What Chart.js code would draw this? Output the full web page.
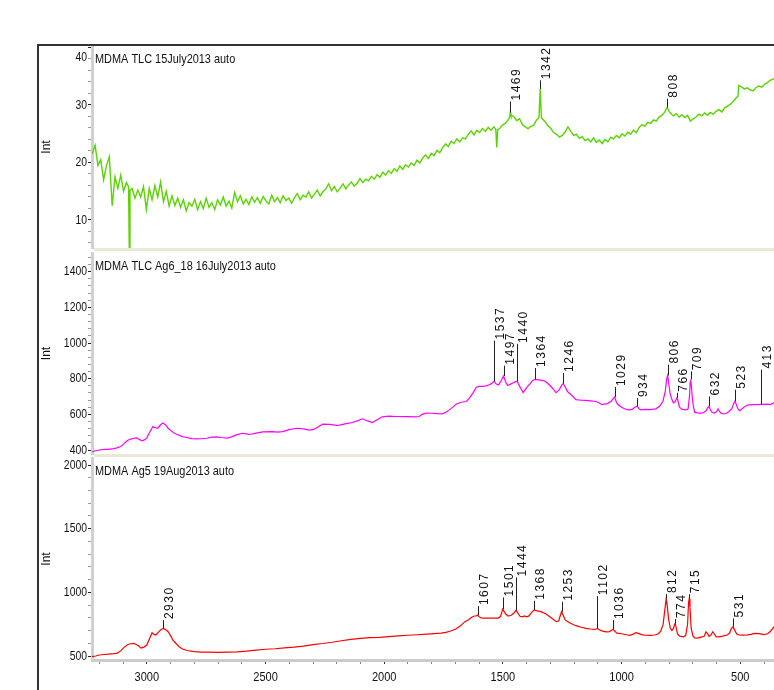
<!DOCTYPE html>
<html>
<head>
<meta charset="utf-8">
<title>MDMA Raman spectra</title>
<script src="https://cdn.jsdelivr.net/npm/chart.js@4.4.1/dist/chart.umd.min.js"></script>
<style>
    html, body { margin: 0; padding: 0; background: #fff; }
    #page { position: relative; width: 774px; height: 690px; overflow: hidden; }
    #frame {
        position: absolute; left: 37px; top: 44px; width: 800px; height: 700px;
        border-left: 2px solid #333; border-top: 2px solid #333;
    }
    canvas { position: absolute; left: 0; }
</style>
</head>
<body>
<div id="page">
    <div id="frame"></div>
    <canvas id="tlc" width="774" height="205" style="top:46px"></canvas>
    <canvas id="ag6" width="774" height="206" style="top:251px"></canvas>
    <canvas id="ag5" width="774" height="233" style="top:457px"></canvas>
</div>
<script>
/* ==========================================================
   data (wavenumber cm-1, intensity)
========================================================== */

const xTicks = [3000, 2500, 2000, 1500, 1000, 500];

/* ---- panel 1 ---- */
const tlcTitle = "MDMA TLC 15July2013 auto";
const tlcTicks = [10, 20, 30, 40];
const tlcSpectrum = [
    [3230,21.5],[3218,23],[3206,19.5],[3194,20.5],[3182,17],[3170,19.5],[3158,21],[3146,12.5],[3134,17.5],[3122,15.5],
    [3110,17.8],[3098,15],[3086,16.5],[3077,15.8],[3074,5.2],[3071,15.2],[3062,15.5],[3050,13.8],[3038,15.2],[3026,14],[3014,15.8],[3002,11.8],
    [2990,15.5],[2978,13.5],[2966,16],[2954,14],[2942,16.6],[2930,13.2],[2918,15],[2906,12.4],[2894,14.2],[2882,12.5],
    [2870,13.8],[2858,12.2],[2846,13.5],[2834,11.6],[2822,13],[2810,12.4],[2798,13.6],[2786,11.8],[2774,13.2],[2762,12],
    [2750,13.8],[2738,12.2],[2726,13],[2714,11.8],[2702,13.5],[2690,12.6],[2678,14],[2666,12.4],[2654,13.3],[2642,12.1],
    [2630,14.8],[2618,13.2],[2606,14.2],[2594,12.8],[2582,13.6],[2570,12.7],[2558,14],[2546,13.1],[2534,13.9],[2522,12.9],
    [2510,14.1],[2498,13.3],[2486,12.8],[2474,14.3],[2462,13.2],[2450,13.9],[2438,13],[2426,14.2],[2414,13.4],[2402,13.8],
    [2390,12.9],[2378,13.9],[2366,14.6],[2354,13.5],[2342,14.3],[2330,14],[2318,14.9],[2306,13.8],[2294,14.5],[2282,15.2],
    [2270,14.2],[2258,14.9],[2246,15.4],[2234,16.3],[2222,15.1],[2210,15.8],[2198,14.9],[2186,15.5],[2174,16.3],[2162,15.4],
    [2150,16.1],[2138,16.6],[2126,15.9],[2114,16.4],[2102,17.2],[2090,16.5],[2078,17.1],[2066,16.8],[2054,17.6],[2042,17.1],
    [2030,17.9],[2018,17.4],[2006,18.3],[1994,17.8],[1982,18.6],[1970,18.1],[1958,18.9],[1946,18.5],[1934,19.4],[1922,18.8],
    [1910,19.6],[1898,19.2],[1886,19.9],[1874,19.5],[1862,20.4],[1850,19.9],[1838,20.8],[1826,21.3],[1814,20.7],[1802,21.6],
    [1790,21.2],[1778,22.1],[1766,21.7],[1754,22.6],[1742,23.2],[1730,22.8],[1718,23.7],[1706,23.3],[1694,24.1],[1682,23.6],
    [1670,24.3],[1658,24.1],[1646,24.9],[1634,25.5],[1622,24.8],[1610,25.6],[1598,25.2],[1586,25.9],[1574,25.4],[1562,26.1],
    [1550,25.6],[1538,26.2],[1530,25.8],[1526,22.6],[1522,25.7],[1514,25.9],[1502,26.5],[1490,26.8],[1478,27.4],[1472,27.8],
    [1469,28.7],[1466,28.2],[1454,28],[1442,27.3],[1430,27.6],[1418,26.6],[1406,26.2],[1394,25.9],[1382,26.3],[1370,26.5],
    [1358,27.4],[1348,27.8],[1343,32.8],[1338,27.9],[1334,27.6],[1322,27.1],
    [1310,26.4],[1298,25.9],[1286,25.2],[1274,24.9],[1262,24.4],[1250,24.7],[1238,25.3],[1226,26.2],[1214,25.4],[1202,24.7],
    [1190,24.9],[1178,24.2],[1166,24.5],[1154,23.8],[1142,24.1],[1130,23.6],[1118,24.3],[1106,23.5],[1094,23.9],[1082,23.3],
    [1070,24],[1058,23.6],[1046,24.4],[1034,24.1],[1022,24.7],[1010,24.3],[998,25],[986,24.6],[974,25.3],[962,24.9],
    [950,25.6],[938,25.2],[926,26.1],[914,26.6],[902,26.3],[890,27],[878,26.8],[866,27.4],[854,27.2],[842,27.9],
    [830,28.2],[818,28.8],[808,29.6],[800,28.9],[794,28.6],[782,28.1],[770,28.5],[758,27.9],[746,28.3],[734,27.8],[722,28.2],
    [710,27.2],[698,27.6],[686,27.9],[674,28.4],[662,28.1],[650,28.6],[638,28.2],[626,28.7],[614,28.4],[602,28.9],
    [590,29.2],[578,28.8],[566,29.5],[554,29.8],[542,30.1],[530,30.6],[518,31.2],[510,31.5],[506,33.4],[494,33.1],[482,32.8],
    [470,33],[458,32.6],[446,32.5],[434,33],[422,33.3],[410,33.1],[398,33.6],[386,33.9],[374,34.3],[362,34.5],[350,34.8]
];
const tlcPeaks = [1469, 1342, 808];
const tlcPeakBase = [28.7, 32.8, 29.6];
const tlcPeakTop = [30.6, 34.3, 31.1];

/* ---- panel 2 ---- */
const ag6Title = "MDMA TLC Ag6_18 16July2013 auto";
const ag6Ticks = [400, 600, 800, 1000, 1200, 1400];
const ag6Spectrum = [
    [3231,390],[3215,396],[3200,400],[3180,403],[3160,404],[3140,408],[3126,412],[3110,420],[3100,430],[3085,450],
    [3071,460],[3055,466],[3042,468],[3030,458],[3020,452],[3008,458],[3000,468],[2988,500],[2975,530],[2964,526],
    [2954,522],[2943,540],[2933,552],[2920,540],[2910,522],[2900,510],[2885,495],[2874,488],[2850,475],[2832,470],
    [2810,464],[2790,462],[2770,463],[2748,466],[2725,472],[2706,474],[2685,470],[2660,467],[2640,475],[2620,486],
    [2596,494],[2580,490],[2567,487],[2540,495],[2512,502],[2470,503],[2450,500],[2428,503],[2400,514],[2369,522],
    [2340,518],[2315,512],[2300,514],[2280,528],[2260,545],[2230,544],[2200,538],[2188,540],[2160,548],[2134,554],
    [2110,565],[2092,575],[2070,563],[2050,554],[2030,570],[2008,586],[1980,590],[1950,588],[1900,587],[1870,586],
    [1852,588],[1840,600],[1823,607],[1800,606],[1775,604],[1755,603],[1740,612],[1726,625],[1710,642],[1696,658],
    [1675,668],[1654,672],[1642,690],[1625,722],[1612,752],[1600,757],[1587,757],[1570,760],[1558,766],[1548,772],
    [1537,786],[1528,770],[1518,765],[1507,790],[1497,815],[1488,780],[1480,762],[1470,768],[1458,776],[1448,782],
    [1440,786],[1430,758],[1420,735],[1415,722],[1405,740],[1395,758],[1385,772],[1375,790],[1364,796],[1350,793],
    [1335,790],[1320,784],[1305,766],[1290,745],[1276,722],[1262,738],[1252,765],[1246,772],[1238,755],[1228,728],
    [1221,720],[1205,700],[1192,682],[1170,679],[1150,678],[1130,676],[1108,672],[1095,665],[1083,654],[1060,660],
    [1045,672],[1035,690],[1029,698],[1022,668],[1015,655],[1000,640],[985,630],[970,625],[955,628],[944,640],
    [934,646],[926,630],[919,625],[900,628],[880,626],[856,631],[840,645],[826,672],[816,730],[810,800],
    [806,818],[802,780],[796,720],[790,690],[782,665],[774,672],[768,690],[766,694],[762,672],[756,640],
    [745,628],[730,625],[720,630],[714,700],[711,780],[709,795],[706,760],[702,690],[697,640],[692,612],
    [680,608],[665,606],[655,610],[645,618],[638,635],[632,646],[626,625],[618,610],[610,607],[600,614],
    [594,630],[588,618],[580,605],[570,602],[558,606],[548,616],[536,630],[528,660],[523,673],[518,660],
    [510,630],[503,620],[495,628],[485,640],[470,652],[450,654],[430,654],[413,656],[400,656],[388,657],
    [375,654],[365,660],[358,666]
];
const ag6Peaks = [1537, 1497, 1440, 1364, 1246, 1029, 934, 806, 766, 709, 632, 523, 413];
const ag6PeakBase = [786, 815, 786, 796, 772, 698, 646, 818, 694, 795, 646, 673, 656];
const ag6PeakTop = [1014, 873, 995, 860, 832, 753, 691, 879, 721, 841, 700, 738, 851];

/* ---- panel 3 ---- */
const ag5Title = "MDMA Ag5 19Aug2013 auto";
const ag5Ticks = [500, 1000, 1500, 2000];
const ag5Spectrum = [
    [3231,495],[3215,500],[3200,508],[3180,512],[3160,515],[3140,518],[3126,521],[3110,540],[3095,570],[3080,590],
    [3068,596],[3055,599],[3045,590],[3035,580],[3025,562],[3012,570],[3000,586],[2988,640],[2978,683],[2970,670],
    [2962,665],[2950,690],[2940,708],[2930,717],[2920,706],[2910,691],[2900,660],[2890,625],[2878,600],[2865,575],
    [2850,555],[2830,543],[2800,535],[2770,531],[2740,530],[2700,529],[2660,531],[2620,533],[2580,538],[2540,546],
    [2500,553],[2460,557],[2420,564],[2380,569],[2340,578],[2300,590],[2260,598],[2220,608],[2180,620],[2140,630],
    [2100,638],[2060,644],[2020,646],[1980,652],[1940,658],[1900,663],[1860,667],[1820,672],[1790,675],[1760,679],
    [1740,685],[1720,696],[1700,710],[1680,735],[1660,770],[1645,785],[1630,806],[1620,814],[1612,815],[1607,822],
    [1600,808],[1592,800],[1580,798],[1560,798],[1540,797],[1520,798],[1510,810],[1501,868],[1495,850],[1488,830],
    [1478,814],[1465,820],[1452,840],[1444,860],[1436,835],[1428,812],[1418,808],[1408,815],[1400,808],[1390,815],
    [1378,845],[1368,862],[1355,855],[1340,848],[1320,832],[1305,812],[1290,790],[1275,770],[1265,775],[1258,820],
    [1253,848],[1246,820],[1238,785],[1228,770],[1215,757],[1200,743],[1185,735],[1170,726],[1150,717],[1130,712],
    [1115,709],[1106,712],[1102,717],[1096,708],[1080,695],[1065,690],[1050,692],[1042,702],[1036,710],[1030,698],
    [1020,680],[1000,675],[980,667],[965,662],[950,672],[940,684],[930,678],[915,668],[900,663],[880,662],
    [860,665],[845,675],[835,695],[825,750],[818,860],[812,950],[808,900],[802,790],[795,720],[788,700],
    [782,715],[776,752],[774,756],[770,720],[764,672],[755,656],[740,650],[730,660],[722,750],[718,920],
    [715,950],[712,880],[707,720],[700,660],[692,642],[680,640],[665,648],[652,655],[645,690],[638,675],
    [632,655],[624,665],[616,690],[610,675],[602,652],[590,650],[570,658],[555,665],[545,680],[538,715],
    [531,730],[524,705],[515,672],[505,665],[490,664],[470,666],[455,670],[440,678],[420,676],[400,668],
    [385,675],[375,690],[365,712],[358,730]
];
const ag5Peaks = [2930, 1607, 1501, 1444, 1368, 1253, 1102, 1036, 812, 774, 715, 531];
const ag5PeakBase = [717, 822, 868, 860, 862, 848, 717, 710, 950, 756, 950, 730];
const ag5PeakTop = [782, 892, 960, 1117, 934, 926, 970, 782, 986, 790, 985, 795];

/* ==========================================================
   drawing helpers
========================================================== */

const FONT = '"Liberation Sans", Arial, sans-serif';

// condensed text, the original uses a narrow face
function narrowText(ctx, text, x, y, align, sx) {
    ctx.save();
    ctx.translate(x, y);
    ctx.scale(sx, 1);
    ctx.textAlign = align;
    ctx.fillText(text, 0, 0);
    ctx.restore();
}

const spectrumLabels = {

    id: "spectrum",

    afterDraw(chart, args, opts) {

        const ctx = chart.ctx;
        const area = chart.chartArea;
        const xs = chart.scales.x;
        const ys = chart.scales.y;

        ctx.save();

        // panel separator
        if (opts.separator) {
            ctx.fillStyle = "#ebe8d8";
            ctx.fillRect(area.left + 2, area.bottom, area.right - area.left, 3);
        }

        ctx.fillStyle = "#111";
        ctx.textBaseline = "middle";

        // y tick labels
        ctx.font = "13px " + FONT;
        opts.yTicks.forEach(v => {
            let py = ys.getPixelForValue(v);
            if (py < area.top + 6) py = area.top + 11;
            narrowText(ctx, String(v), 87, py, "right", 0.8);
        });

        // x tick labels
        if (opts.xTicks) {
            opts.xTicks.forEach(v => {
                narrowText(ctx, String(v), xs.getPixelForValue(v), area.bottom + 17, "center", 0.85);
            });
        }

        // panel title
        narrowText(ctx, opts.title, area.left + 3, area.top + 13, "left", 0.84);

        // peak labels
        ctx.font = "12px " + FONT;
        ctx.letterSpacing = "1.5px";
        ctx.strokeStyle = "#222";
        ctx.lineWidth = 1;

        opts.peaks.forEach((wn, i) => {
            const px = Math.round(xs.getPixelForValue(wn)) + 0.5;
            const y1 = ys.getPixelForValue(opts.base[i]);
            const y2 = ys.getPixelForValue(opts.top[i]);

            ctx.beginPath();
            ctx.moveTo(px, y1);
            ctx.lineTo(px, y2);
            ctx.stroke();

            ctx.save();
            ctx.translate(px + 6, y2 - 1);
            ctx.rotate(-Math.PI / 2);
            ctx.textAlign = "left";
            ctx.fillText(String(wn), 0, 0);
            ctx.restore();
        });

        ctx.letterSpacing = "0px";
        ctx.restore();
    }

};

function spectrumChart(id, cfg) {

    const majors = cfg.yTicks;

    const xScale = {
        type: "linear",
        reverse: true,
        min: 358,
        max: 3231,
        display: cfg.showX,
        ticks: {
            display: false,
            stepSize: 100,
            autoSkip: false,
            includeBounds: false,
            maxTicksLimit: 100
        },
        grid: {
            drawOnChartArea: false,
            tickLength: 4,
            tickColor: c => (c.tick && xTicks.includes(c.tick.value)) ? "#333" : "#888"
        },
        border: {
            color: "#cccccc",
            width: 3
        }
    };

    // room for the wavenumber labels under the last panel only
    if (cfg.showX) {
        xScale.afterFit = s => { s.height = 30; };
    }

    return new Chart(document.getElementById(id), {

        type: "line",

        data: {
            datasets: [
                {
                    data: cfg.points.map(p => ({ x: p[0], y: p[1] })),
                    borderColor: cfg.color,
                    borderWidth: cfg.lineWidth,
                    pointRadius: 0,
                    tension: 0,
                    fill: false
                }
            ]
        },

        options: {

            responsive: false,
            animation: false,
            events: [],

            layout: {
                padding: cfg.padding
            },

            plugins: {
                legend: { display: false },
                tooltip: { enabled: false },
                spectrum: {
                    title: cfg.title,
                    yTicks: cfg.yTicks,
                    xTicks: cfg.showX ? xTicks : null,
                    peaks: cfg.peaks,
                    base: cfg.base,
                    top: cfg.top,
                    separator: !cfg.showX
                }
            },

            scales: {

                x: xScale,

                y: {
                    type: "linear",
                    min: cfg.yMin,
                    max: cfg.yMax,
                    ticks: {
                        display: false,
                        stepSize: cfg.yStep,
                        autoSkip: false,
                        includeBounds: false,
                        maxTicksLimit: 100
                    },
                    grid: {
                        drawOnChartArea: false,
                        tickLength: 4,
                        tickColor: c => (c.tick && majors.includes(c.tick.value)) ? "#222" : "#9a9a9a"
                    },
                    border: {
                        color: "#d0d0d0",
                        width: 3
                    },
                    title: {
                        display: true,
                        text: "Int",
                        color: "#111",
                        font: { family: FONT, size: 12 },
                        padding: { top: 39, bottom: 0 }
                    },
                    afterFit: s => { s.width = 92; }
                }

            }

        },

        plugins: [spectrumLabels]

    });

}

spectrumChart("tlc", {
    title: tlcTitle,
    points: tlcSpectrum,
    color: "#5ad400",
    lineWidth: 1.4,
    yMin: 5.13,
    yMax: 40.26,
    yStep: 2,
    yTicks: tlcTicks,
    peaks: tlcPeaks,
    base: tlcPeakBase,
    top: tlcPeakTop,
    padding: { top: 0, bottom: 3, left: 0, right: 0 },
    showX: false
});

spectrumChart("ag6", {
    title: ag6Title,
    points: ag6Spectrum,
    color: "#ff00ff",
    lineWidth: 1.2,
    yMin: 377.6,
    yMax: 1504.7,
    yStep: 40,
    yTicks: ag6Ticks,
    peaks: ag6Peaks,
    base: ag6PeakBase,
    top: ag6PeakTop,
    padding: { top: 2, bottom: 3, left: 0, right: 0 },
    showX: false
});

spectrumChart("ag5", {
    title: ag5Title,
    points: ag5Spectrum,
    color: "#ff0000",
    lineWidth: 1.2,
    yMin: 468.6,
    yMax: 2055,
    yStep: 100,
    yTicks: ag5Ticks,
    peaks: ag5Peaks,
    base: ag5PeakBase,
    top: ag5PeakTop,
    padding: { top: 1, bottom: 0, left: 0, right: 0 },
    showX: true
});
</script>
</body>
</html>
